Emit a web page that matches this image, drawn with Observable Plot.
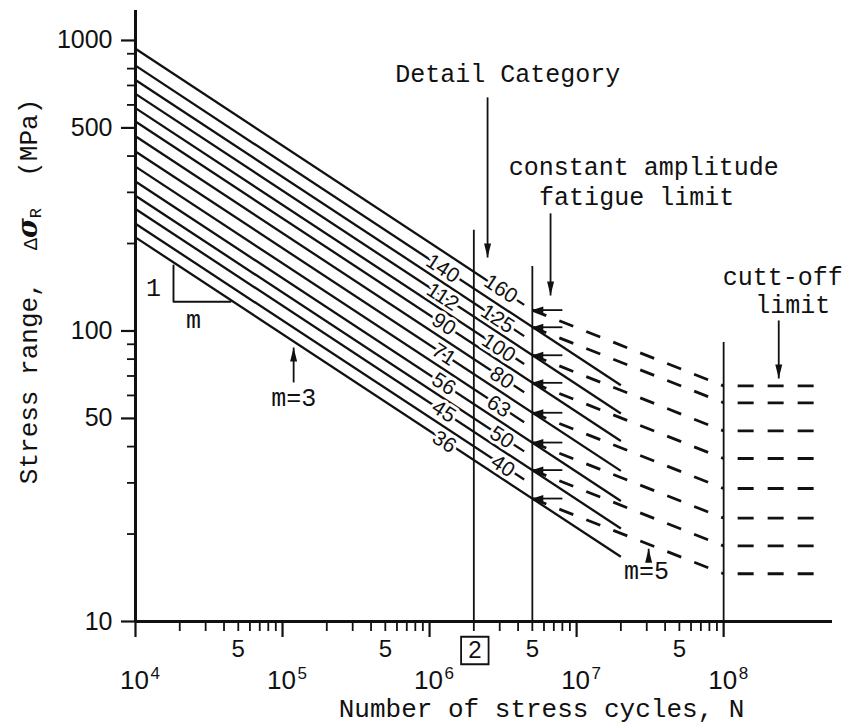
<!DOCTYPE html>
<html><head><meta charset="utf-8">
<script src="https://cdn.jsdelivr.net/npm/d3@7"></script>
<script src="https://cdn.jsdelivr.net/npm/@observablehq/plot@0.6"></script>
<style>html,body{margin:0;padding:0;background:#fff;overflow:hidden}</style>
</head><body><div id="chart"></div>
<script>
// ---------- data ----------
const categories      = [160, 140, 125, 112, 100, 90, 80, 71, 63, 56, 50, 45, 40, 36];
const stressAt1e4     = [936, 819, 731, 655, 585, 526, 468, 415, 368, 327, 292, 263, 234, 210];
const solidEndCycles  = [4.4e6, 2e7, 4.4e6, 2e7, 4.4e6, 2e7, 4.4e6, 2e7, 4.4e6, 2e7, 4.4e6, 2e7, 4.4e6, 2e7];
const solidEndStress  = [123, 65, 96, 52, 77, 41.8, 61.5, 33, 48.5, 26, 38.5, 20.9, 30.8, 16.7];
const labelCycles     = [3.05e6, 1.23e6, 2.9e6, 1.23e6, 2.95e6, 1.25e6, 3.1e6, 1.25e6, 2.95e6, 1.25e6, 3.1e6, 1.25e6, 3.15e6, 1.26e6];
const labelStress     = [139.5, 164, 110, 131, 87.4, 105.5, 69, 83, 55, 65.7, 43, 52.8, 34.3, 41.5];

const limitCategories = [160, 140, 112, 90, 71, 56, 45, 36];
const fatigueLimit    = [118, 103, 82.5, 66.3, 52.3, 41.3, 33.2, 26.5];   // at 5e6 cycles
const cutoffLimit     = [64.7, 56.6, 45.3, 36.4, 28.7, 22.7, 18.2, 14.6]; // at 1e8 cycles

const startCycles = 1e4, detailCycles = 2e6, kneeCycles = 5e6, cutoffCycles = 1e8, endCycles = 4.43e8;
const refCycles = [detailCycles, kneeCycles, cutoffCycles];
const refTops   = [222, 166.7, 91.3];

const yMajor = [10, 50, 100, 500, 1000];
const yMinor = [20, 30, 40, 60, 70, 80, 90, 200, 300, 400, 600, 700, 800, 900];
const xMajor = [1e4, 1e5, 1e6, 1e7, 1e8];
const xMinorMult = [2, 3, 4, 5, 6, 7, 8, 9];
const xFive = [5e4, 5e5, 5e6, 5e7];
const powers = [4, 5, 6, 7, 8];

const noteText   = ["Detail Category", "constant amplitude", "fatigue limit", "cutt-off", "limit", "1", "m", "m=3", "m=5"];
const noteCycles = [3.4e6, 2.86e7, 2.56e7, 2.52e8, 2.95e8, 1.326e4, 2.48e4, 1.19e5, 2.99e7];
const noteStress = [764, 368, 290, 154, 122.4, 141, 108.7, 59, 14.9];

const arrowCycles = [2.48e6, 6.65e6, 2.37e8, 1.19e5, 3.09e7];
const arrowFrom   = [637, 254, 108.7, 66.5, 16.2];
const arrowTo     = [179, 132.5, 68.6, 87.7, 17.8];

const slopeCycles = [1.813e4, 1.813e4, 4.43e4];
const slopeStress = [168, 126, 126];

// ---------- tables ----------
const rows = categories.map((c, i) => ({cat: c, s0: stressAt1e4[i], n1: solidEndCycles[i], s1: solidEndStress[i], ln: labelCycles[i], ls: labelStress[i]}));
const limits = limitCategories.map((c, i) => ({cat: c, sd: fatigueLimit[i], sl: cutoffLimit[i]}));
const notes = noteText.map((t, i) => ({t, n: noteCycles[i], s: noteStress[i]}));
const arrows = arrowCycles.map((n, i) => ({n, a: arrowFrom[i], b: arrowTo[i]}));
const slope = slopeCycles.map((n, i) => ({n, s: slopeStress[i]}));
const xMinor = [];
for (const p of [1e4, 1e5, 1e6, 1e7]) for (const m of xMinorMult) xMinor.push(m * p);

const INK = "#111";
const MONO = "Liberation Mono, DejaVu Sans Mono, monospace";
const SANS = "Liberation Sans, Arial, sans-serif";
const headV = {draw(ctx) { ctx.moveTo(0, 0); ctx.lineTo(-3.5, -14); ctx.lineTo(3.5, -14); ctx.closePath(); }};
const headH = {draw(ctx) { ctx.moveTo(0, 0); ctx.lineTo(-3.5, -11); ctx.lineTo(3.5, -11); ctx.closePath(); }};

const chart = Plot.plot({
  width: 846, height: 724,
  marginLeft: 135, marginRight: 14, marginTop: 10, marginBottom: 103,
  x: {type: "log", domain: [1e4, 5.5e8], label: null},
  y: {type: "log", domain: [10, 1268], label: null},
  style: {background: "#fff", color: INK, fontFamily: SANS, fontSize: "24px", overflow: "visible"},
  marks: [
    // m=3 solid lines
    Plot.link(rows, {x1: () => startCycles, y1: "s0", x2: "n1", y2: "s1", stroke: INK, strokeWidth: 2.3}),
    // m=5 dashed lines
    Plot.link(limits, {x1: () => kneeCycles, y1: "sd", x2: () => cutoffCycles, y2: "sl", stroke: INK, strokeWidth: 2.8, strokeDasharray: "15,14"}),
    // cut-off horizontal dashes
    Plot.link(limits, {x1: () => cutoffCycles, y1: "sl", x2: () => endCycles, y2: "sl", stroke: INK, strokeWidth: 2.8, strokeDasharray: "16,14", strokeDashoffset: 16}),
    // category labels with halo
    Plot.text(rows, {x: "ln", y: "ls", text: d => String(d.cat), rotate: 33, fontFamily: SANS, fontSize: 21, fill: INK, stroke: "#fff", strokeWidth: 6}),
    // reference verticals
    Plot.ruleX(refCycles, {x: d => d, y1: () => 10, y2: (d, i) => refTops[i], stroke: INK, strokeWidth: 1.8}),
    // fatigue-limit arrows
    Plot.link(limits, {x1: () => 8.0e6, y1: "sd", x2: () => kneeCycles, y2: "sd", stroke: INK, strokeWidth: 1.8}),
    Plot.dot(limits, {x: () => kneeCycles, y: "sd", symbol: headH, rotate: 90, fill: INK, stroke: null, r: 5}),
    // annotation arrows
    Plot.link(arrows, {x1: "n", y1: "a", x2: "n", y2: "b", stroke: INK, strokeWidth: 1.8}),
    Plot.dot(arrows, {x: "n", y: "b", symbol: headV, rotate: d => d.b < d.a ? 0 : 180, fill: INK, stroke: null, r: 5}),
    // slope triangle
    Plot.line(slope, {x: "n", y: "s", stroke: INK, strokeWidth: 1.9}),
    // annotation text
    Plot.text(notes, {x: "n", y: "s", text: "t", fontFamily: MONO, fontSize: 25, fill: INK}),
    // axis titles
    Plot.text(["Stress range,  ΔσR  (MPa)"], {x: () => startCycles, y: () => 136.8, dx: -107, rotate: -90, text: d => d, fontFamily: MONO, fontSize: 26, fill: INK}),
    Plot.text(["Number of stress cycles, N"], {x: () => 5.78e6, frameAnchor: "bottom", lineAnchor: "middle", dy: 87, text: d => d, fontFamily: MONO, fontSize: 26, fill: INK}),
    // axes
    Plot.axisY({ticks: yMajor, tickSize: 14, tickPadding: 9, tickFormat: d => String(d), strokeWidth: 2.2, fontSize: 25, label: null}),
    Plot.axisY({ticks: yMinor, tickSize: 8, tickFormat: () => "", strokeWidth: 1.8, label: null}),
    Plot.axisX({ticks: xMajor, tickSize: 16, tickFormat: () => "", strokeWidth: 2.2, label: null}),
    Plot.axisX({ticks: xMinor, tickSize: 10, tickFormat: () => "", strokeWidth: 1.8, label: null}),
    Plot.text(xFive, {x: d => d, text: () => "5", frameAnchor: "bottom", lineAnchor: "middle", dy: 28, fontFamily: SANS, fontSize: 24, fill: INK}),
    Plot.text([detailCycles], {x: d => d, text: () => "2", frameAnchor: "bottom", lineAnchor: "middle", dy: 29, dx: 1, fontFamily: SANS, fontSize: 24, fill: INK}),
    Plot.dot([detailCycles], {x: d => d, frameAnchor: "bottom", dy: 29, dx: 1, symbol: "square", r: 15.5, stroke: INK, strokeWidth: 1.8, fill: "none"}),
    Plot.text(powers, {x: d => 10 ** d, text: () => "10", frameAnchor: "bottom", lineAnchor: "middle", dy: 59, dx: -1, fontFamily: SANS, fontSize: 26, fill: INK}),
    Plot.text(powers, {x: d => 10 ** d, text: d => String(d), frameAnchor: "bottom", lineAnchor: "middle", dy: 52, dx: 15, textAnchor: "start", fontFamily: SANS, fontSize: 17, fill: INK}),
    Plot.ruleX([startCycles], {x: d => d, y1: () => 10, y2: () => 1268, stroke: INK, strokeWidth: 3}),
    Plot.ruleY([10], {y: d => d, x1: () => 1e4, x2: () => 5.5e8, stroke: INK, strokeWidth: 3})
  ]
});
document.getElementById("chart").appendChild(chart);

// rich text for the y title: Δσ with subscript R
const yt = [...chart.querySelectorAll("text")].find(e => e.textContent.startsWith("Stress range"));
if (yt) {
  yt.textContent = "";
  yt.setAttribute("style", "white-space:pre");
  const ns = "http://www.w3.org/2000/svg";
  const add = (txt, attrs = {}) => { const s = document.createElementNS(ns, "tspan"); s.textContent = txt; for (const k in attrs) s.setAttribute(k, attrs[k]); yt.appendChild(s); return s; };
  add("Stress range,  ");
  add("Δ", {"font-size": 20});
  add("σ", {"font-family": "DejaVu Serif", "font-weight": "bold", "font-style": "italic", "font-size": 27});
  add("R", {"font-size": 17, "baseline-shift": "-25%"});
  add("  (MPa)");
}
</script></body></html>
